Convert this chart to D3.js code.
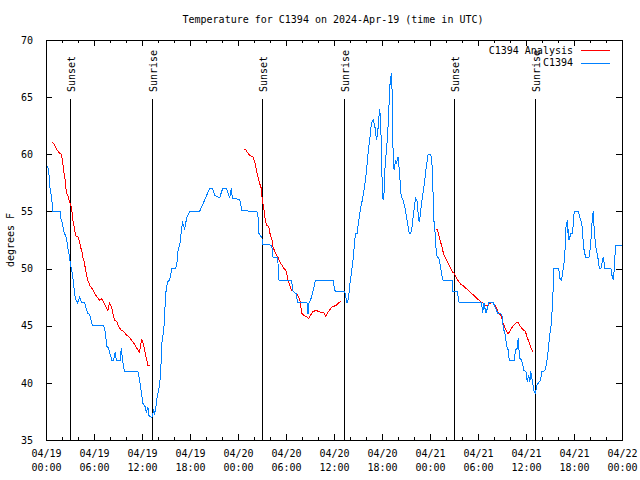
<!DOCTYPE html>
<html><head><meta charset="utf-8">
<script src="https://cdn.jsdelivr.net/npm/d3@7"></script>
<style>html,body{margin:0;padding:0;background:#fff;} svg{display:block;}</style>
</head><body>
<svg id="chart" width="640" height="480"></svg>
<script>
const chartTitle = "Temperature for C1394 on 2024-Apr-19 (time in UTC)";
const yLabel = "degrees F";
const seriesNames = ["C1394 Analysis", "C1394"];
const startDate = Date.UTC(2024, 3, 19);
const endDate = Date.UTC(2024, 3, 22);
const yTicks = [35, 40, 45, 50, 55, 60, 65, 70];
const sunsetHours = [2.98, 27.0, 51.02];
const sunriseHours = [13.24, 37.26, 61.15];

// observations: [hours since 2024-04-19 00:00 UTC, degrees F]
const obsPoints = [[0.19,59.0],[0.35,58.5],[0.44,57.5],[0.56,56.7],[0.69,56.3],[0.78,55.6],[0.85,55.0],[1.78,55.0],[1.81,54.5],[1.98,54.1],[2.10,53.8],[2.23,53.2],[2.44,52.9],[2.60,52.5],[2.73,51.8],[2.85,51.4],[2.98,50.75],[3.32,49.4],[3.57,47.9],[3.69,47.3],[3.94,47.0],[4.19,47.5],[4.44,47.0],[4.82,47.0],[5.19,46.1],[5.44,46.0],[5.82,45.0],[7.23,45.0],[7.41,44.4],[7.61,43.2],[7.82,43.05],[7.94,42.7],[8.23,42.0],[8.44,42.0],[8.66,42.7],[8.78,42.0],[9.28,42.0],[9.41,43.05],[9.57,42.0],[9.70,41.4],[9.82,41.0],[11.49,41.0],[11.70,40.25],[11.91,39.2],[12.11,38.2],[12.41,37.9],[12.54,37.35],[12.74,37.9],[12.82,37.2],[12.95,37.05],[13.24,37.0],[13.45,37.6],[13.57,37.35],[13.70,37.6],[13.86,38.65],[14.11,39.4],[14.32,40.7],[14.49,43.5],[14.70,44.6],[14.83,45.6],[14.91,47.25],[15.04,48.3],[15.24,48.85],[15.45,49.0],[15.66,49.7],[15.70,50.0],[16.20,50.0],[16.36,50.45],[16.49,51.5],[16.70,52.1],[16.83,52.5],[16.91,53.4],[17.08,54.0],[17.33,53.5],[17.58,54.4],[17.95,55.0],[19.20,55.0],[19.58,55.6],[20.08,56.4],[20.46,57.0],[20.83,57.0],[21.08,56.4],[21.71,56.2],[22.08,57.0],[22.58,57.0],[22.96,56.2],[23.17,57.0],[23.30,56.15],[24.21,56.05],[24.50,55.06],[26.37,55.0],[26.50,54.5],[26.59,53.1],[26.80,52.9],[27.00,52.65],[27.01,52.15],[28.17,52.05],[28.30,51.6],[28.38,51.0],[28.93,51.0],[29.00,50.45],[29.13,49.0],[30.68,49.0],[30.80,48.4],[30.88,48.0],[31.30,47.8],[31.43,47.0],[32.63,47.0],[32.75,46.0],[32.88,47.0],[33.09,47.3],[33.30,47.8],[33.47,48.3],[33.68,49.0],[35.88,49.0],[36.09,48.1],[36.22,48.0],[37.34,48.0],[37.47,47.5],[37.63,47.0],[37.81,47.4],[37.97,48.6],[38.18,49.6],[38.38,50.75],[38.47,51.5],[38.60,52.5],[38.72,53.1],[38.93,53.1],[39.01,53.8],[39.22,54.8],[39.35,55.4],[39.51,55.9],[39.63,56.4],[39.76,56.9],[39.93,57.75],[40.06,58.5],[40.18,59.5],[40.31,60.5],[40.47,61.25],[40.60,62.3],[40.76,62.85],[40.89,63.05],[41.01,62.7],[41.14,62.3],[41.31,61.25],[41.44,61.7],[41.60,63.15],[41.72,64.0],[41.85,62.55],[41.94,59.5],[42.06,56.6],[42.14,56.0],[42.26,56.7],[42.35,58.6],[42.56,60.5],[42.69,61.5],[42.85,63.9],[42.98,65.9],[43.06,66.65],[43.19,67.1],[43.26,65.5],[43.31,63.0],[43.39,60.1],[43.51,58.6],[43.69,59.5],[43.81,59.2],[44.01,59.8],[44.14,58.8],[44.23,58.0],[44.35,56.6],[44.51,56.15],[44.64,56.0],[44.85,55.4],[45.06,54.5],[45.26,53.7],[45.39,53.1],[45.60,53.1],[45.77,53.7],[45.89,54.5],[46.10,55.7],[46.23,56.15],[46.39,55.9],[46.52,54.8],[46.64,54.1],[46.73,54.4],[46.94,55.7],[47.14,56.7],[47.35,57.75],[47.57,59.1],[47.77,60.0],[48.11,60.0],[48.32,58.6],[48.39,56.3],[48.48,54.25],[48.61,53.5],[48.69,52.1],[48.89,51.0],[49.10,50.9],[49.32,50.15],[49.52,49.3],[49.64,49.0],[50.77,49.0],[50.78,48.0],[51.44,48.0],[51.52,47.5],[51.65,47.0],[54.45,47.0],[54.57,46.1],[54.74,47.0],[54.99,46.1],[55.20,46.6],[55.36,47.0],[55.90,47.0],[56.24,46.5],[56.45,46.1],[56.95,46.0],[57.08,45.65],[57.15,44.8],[57.36,44.35],[57.49,43.75],[57.65,43.0],[57.78,42.9],[57.90,42.0],[58.53,42.0],[58.70,42.9],[58.90,43.0],[59.03,43.9],[59.11,43.0],[59.24,42.15],[59.45,42.0],[59.74,41.1],[59.99,41.0],[60.15,40.1],[60.33,40.7],[60.49,40.1],[60.58,41.0],[60.74,40.4],[60.90,39.7],[61.03,39.2],[61.20,39.05],[61.33,39.8],[61.53,39.95],[61.83,40.25],[61.95,41.0],[62.36,41.05],[62.57,41.7],[62.70,42.3],[62.86,43.5],[62.99,44.3],[63.12,44.9],[63.21,45.65],[63.28,46.5],[63.41,48.4],[63.49,50.0],[64.03,50.0],[64.16,49.7],[64.24,49.15],[64.45,49.0],[64.58,49.7],[64.66,50.0],[64.78,50.6],[64.87,51.5],[64.96,53.4],[65.08,54.0],[65.16,54.1],[65.21,53.1],[65.28,53.5],[65.37,52.5],[65.50,52.8],[65.62,53.1],[65.83,53.1],[65.91,54.0],[66.03,55.0],[66.53,55.0],[66.66,54.7],[66.83,54.25],[66.96,54.0],[67.08,53.2],[67.16,52.2],[67.28,51.5],[67.46,51.0],[67.87,51.0],[68.00,51.6],[68.12,52.5],[68.21,53.5],[68.29,54.5],[68.41,55.0],[68.50,53.7],[68.62,52.65],[68.75,51.8],[68.91,51.2],[69.04,50.75],[69.16,50.0],[69.37,50.0],[69.54,50.6],[69.66,51.0],[69.75,50.6],[69.87,50.0],[70.62,50.0],[70.75,49.4],[70.91,49.0],[71.00,49.7],[71.13,51.2],[71.25,52.05],[71.96,52.0]];

// analysis runs: [hours, degrees F]
const analysisRun1 = [[0.85,61.05],[1.06,60.8],[1.28,60.5],[1.48,60.3],[1.69,60.1],[1.90,60.0],[2.03,59.6],[2.10,59.2],[2.23,58.5],[2.31,58.0],[2.44,57.6],[2.53,56.7],[2.73,56.4],[2.94,55.85],[3.15,55.4],[3.28,54.8],[3.35,54.25],[3.57,53.5],[3.69,52.85],[3.98,52.8],[4.19,52.35],[4.32,51.9],[4.48,51.5],[4.60,51.0],[4.73,50.75],[4.95,49.9],[5.20,49.0],[5.50,48.5],[5.80,48.2],[6.19,47.7],[6.69,47.25],[6.98,47.35],[7.19,47.1],[7.44,46.7],[7.73,46.3],[7.94,47.0],[8.16,46.7],[8.36,46.1],[8.57,45.5],[8.86,45.35],[9.11,44.9],[9.41,44.6],[9.70,44.5],[10.03,44.2],[10.36,44.05],[10.66,43.75],[10.95,43.5],[11.20,43.2],[11.49,42.9],[11.70,42.65],[11.82,43.3],[11.99,43.8],[12.20,43.3],[12.32,42.9],[12.54,42.15],[12.74,41.55],[13.04,41.5]];
const analysisRun2 = [[24.71,60.4],[24.96,60.4],[25.25,60.1],[25.46,59.9],[25.87,59.8],[26.09,59.35],[26.30,58.6],[26.50,58.0],[26.71,57.45],[26.92,57.0],[27.00,56.3],[27.12,55.7],[27.25,55.1],[27.42,54.25],[27.55,53.8],[27.84,53.7],[27.96,53.2],[28.09,52.8],[28.25,52.5],[28.38,51.9],[28.59,51.5],[28.80,51.2],[29.00,51.0],[29.21,50.6],[29.50,50.3],[29.75,50.0],[29.96,49.9],[30.13,49.4],[30.25,49.0],[30.46,48.55],[30.68,48.1],[30.96,48.0],[31.18,47.8],[31.43,47.7],[31.59,47.5],[31.72,47.25],[31.84,46.8],[31.93,46.1],[32.22,45.9],[32.55,45.8],[32.84,45.65],[33.05,45.9],[33.30,46.2],[33.59,46.3],[33.88,46.3],[34.22,46.2],[34.51,46.2],[34.76,46.1],[34.97,45.8],[35.18,46.1],[35.47,46.4],[35.68,46.6],[35.97,46.7],[36.31,46.8],[36.59,47.0],[36.84,47.1]];
const analysisRun3 = [[48.72,53.4],[48.94,53.4],[49.10,52.9],[49.32,52.35],[49.52,51.8],[49.73,51.2],[49.98,50.9],[50.19,50.6],[50.39,50.3],[50.61,50.0],[50.82,49.7],[51.02,49.6],[51.32,49.15],[51.61,48.85],[51.82,48.65],[52.15,48.5],[52.45,48.3],[52.77,48.1],[53.07,47.9],[53.40,47.7],[53.70,47.5],[54.02,47.3],[54.32,47.1],[54.57,47.0],[54.86,46.8],[55.15,46.75],[55.40,46.9],[55.70,47.0],[55.90,47.0],[56.11,46.8],[56.32,46.5],[56.52,46.2],[56.74,46.0],[56.95,45.8],[57.08,45.35],[57.24,45.05],[57.45,44.7],[57.65,44.4],[57.78,44.3],[57.99,44.5],[58.20,44.8],[58.40,45.0],[58.61,45.15],[58.83,45.3],[59.03,45.3],[59.24,45.0],[59.45,44.8],[59.74,44.6],[59.95,44.5],[60.08,44.05],[60.28,43.75],[60.49,43.3],[60.70,42.9],[60.90,42.7]];

const FONT = "'DejaVu Sans Mono', 'Liberation Mono', monospace";
const FS = 10;
const RED = "#ff0000", BLUE = "#0080ff";

const svg = d3.select("#chart");
svg.append("rect").attr("width", 640).attr("height", 480).attr("fill", "#fff");
const L = 46, R = 622, T = 40, B = 440;
const x = d3.scaleUtc().domain([new Date(startDate), new Date(endDate)]).range([L, R]);
const y = d3.scaleLinear().domain([35, 70]).range([B, T]);
const hr = h => new Date(startDate + h * 3600000);

function styleAxis(g) {
  g.attr("font-family", FONT).attr("font-size", FS);
  g.select(".domain").remove();
  g.selectAll(".tick line").attr("stroke", "#000").attr("shape-rendering", "crispEdges");
}

// minor x ticks (every 2 h)
const minorX = d3.utcHour.every(2);
svg.append("g").attr("transform", `translate(0,${B})`)
  .call(d3.axisBottom(x).ticks(minorX).tickSizeInner(-3).tickSizeOuter(0).tickFormat(""))
  .call(styleAxis);
svg.append("g").attr("transform", `translate(0,${T})`)
  .call(d3.axisTop(x).ticks(minorX).tickSizeInner(-3).tickSizeOuter(0).tickFormat(""))
  .call(styleAxis);

// major x ticks (every 6 h) with two-line labels
const majorX = d3.utcHour.every(6);
const fmtDate = d3.utcFormat("%m/%d"), fmtTime = d3.utcFormat("%H:%M");
const xAxisB = svg.append("g").attr("transform", `translate(0,${B})`)
  .call(d3.axisBottom(x).ticks(majorX).tickSizeInner(-6).tickSizeOuter(0).tickFormat(fmtDate))
  .call(styleAxis);
xAxisB.selectAll(".tick text").each(function(d) {
  const t = d3.select(this).attr("dy", null).attr("y", null).text(null).attr("fill", "#000");
  t.append("tspan").attr("x", 0).attr("y", 17).text(fmtDate(d));
  t.append("tspan").attr("x", 0).attr("y", 31).text(fmtTime(d));
});
svg.append("g").attr("transform", `translate(0,${T})`)
  .call(d3.axisTop(x).ticks(majorX).tickSizeInner(-6).tickSizeOuter(0).tickFormat(""))
  .call(styleAxis);

// y axes
svg.append("g").attr("transform", `translate(${L},0)`)
  .call(d3.axisLeft(y).tickValues(yTicks).tickSizeInner(-6).tickSizeOuter(0).tickPadding(13).tickFormat(d3.format("d")))
  .call(styleAxis)
  .selectAll(".tick text").attr("fill", "#000");
svg.append("g").attr("transform", `translate(${R},0)`)
  .call(d3.axisRight(y).tickValues(yTicks).tickSizeInner(-6).tickSizeOuter(0).tickFormat(""))
  .call(styleAxis);

// frame
svg.append("rect").attr("x", L + 0.5).attr("y", T + 0.5).attr("width", R - L).attr("height", B - T)
  .attr("fill", "none").attr("stroke", "#000").attr("shape-rendering", "crispEdges");

// sunrise / sunset markers
const sunEvents = sunsetHours.map(h => ({h, label: "Sunset"}))
  .concat(sunriseHours.map(h => ({h, label: "Sunrise"})));
sunEvents.forEach(e => {
  const px = Math.round(x(hr(e.h))) + 0.5;
  svg.append("line").attr("x1", px).attr("x2", px).attr("y1", 99).attr("y2", B)
    .attr("stroke", "#000").attr("shape-rendering", "crispEdges");
  svg.append("text").attr("transform", `translate(${px + 4.5},92) rotate(-90)`)
    .attr("font-family", FONT).attr("font-size", FS).attr("fill", "#000").text(e.label);
});

// series
const line = d3.line().x(d => x(hr(d[0]))).y(d => y(d[1]));
[analysisRun1, analysisRun2, analysisRun3].forEach(run => {
  svg.append("path").datum(run).attr("d", line).attr("fill", "none")
    .attr("stroke", RED).attr("stroke-width", 1).attr("shape-rendering", "crispEdges");
});
svg.append("path").datum(obsPoints).attr("d", line).attr("fill", "none")
  .attr("stroke", BLUE).attr("stroke-width", 1).attr("shape-rendering", "crispEdges");

// title & y label
svg.append("text").attr("x", 333).attr("y", 23).attr("text-anchor", "middle")
  .attr("font-family", FONT).attr("font-size", FS).text(chartTitle);
svg.append("text").attr("transform", `translate(14,240) rotate(-90)`).attr("text-anchor", "middle")
  .attr("font-family", FONT).attr("font-size", FS).text(yLabel);

// legend
const legendColors = [RED, BLUE];
seriesNames.forEach((name, i) => {
  const ly = 50 + i * 12.5;
  svg.append("text").attr("x", 573).attr("y", ly + 3.5).attr("text-anchor", "end")
    .attr("font-family", FONT).attr("font-size", FS).text(name);
  svg.append("line").attr("x1", 581).attr("x2", 610).attr("y1", Math.round(ly) + 0.5).attr("y2", Math.round(ly) + 0.5)
    .attr("stroke", legendColors[i]).attr("shape-rendering", "crispEdges");
});
</script>
</body></html>
